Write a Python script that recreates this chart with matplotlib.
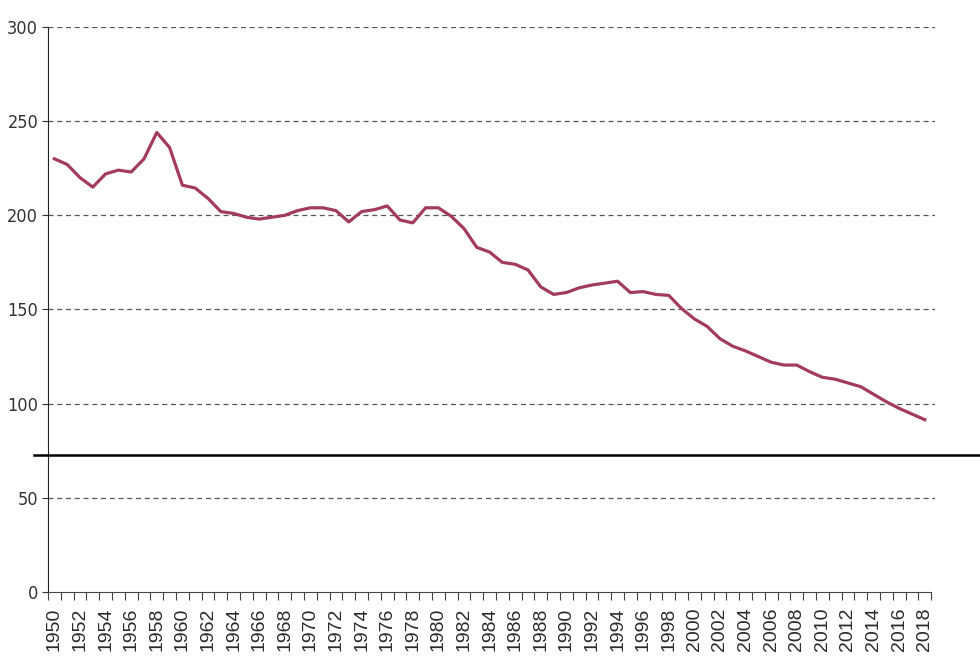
import numpy as np
import matplotlib
matplotlib.use("Agg")
import matplotlib.pyplot as plt
from matplotlib.ticker import MultipleLocator

years = np.arange(1950, 2019)
values = [230, 227, 220, 215, 222, 224, 223, 230, 244, 236,
          216, 214.5, 209, 202, 201, 199, 198, 199, 200, 202.5,
          204, 204, 202.5, 196.5, 202, 203, 205, 197.5, 196, 204,
          204, 199.5, 193, 183, 180.5, 175, 174, 171, 162, 158,
          159, 161.5, 163, 164, 165, 159, 159.5, 158, 157.5, 150.5,
          145, 141, 134.5, 130.5, 128, 125, 122, 120.5, 120.5, 117,
          114, 113, 111, 109, 105, 101, 97.5, 94.5, 91.5]
ref_line = 72.7
y_ticks = [0, 50, 100, 150, 200, 250, 300]

fig = plt.figure(figsize=(9.8, 6.57), dpi=100)
ax = fig.add_axes([48/980, 65/657, 887/980, 565/657])

# gridlines (not at 0)
for yv in y_ticks[1:]:
    ax.axhline(yv, color='#555555', lw=0.9, ls=(0, (4, 3)), zorder=1)

ax.plot(years, values, color='#a23b5e', lw=2.3, solid_joinstyle='round', zorder=3)

# black reference line running past the axes on both sides
x0, x1 = (34 - 48) / 887, (980 - 48) / 887
ax.axhline(ref_line, xmin=x0, xmax=x1, color='black', lw=1.8, clip_on=False, zorder=4)

ax.set_xlim(1949.5, 2018.8)
ax.set_ylim(0, 300)

for s in ['top', 'right']:
    ax.spines[s].set_visible(False)
ax.spines['left'].set_color('#222222')
ax.spines['bottom'].set_color('#444444')
ax.spines['bottom'].set_bounds(1949.5, 2018.5)

ax.set_yticks(y_ticks)
ax.set_yticklabels([str(v) for v in y_ticks],
                   family=['DejaVu Sans'], stretch='condensed', fontsize=13,
                   color='#333333')
ax.tick_params(axis='y', length=4, width=0.8, pad=3, color='#333333')

ax.set_xticks(years[::2])
ax.set_xticklabels([str(y) for y in years[::2]], rotation=90,
                   family=['Liberation Sans', 'DejaVu Sans'], fontsize=14,
                   color='#2a2a2a')
ax.xaxis.set_minor_locator(MultipleLocator(1, offset=0.5))
ax.tick_params(axis='x', which='major', length=0, pad=11)
ax.tick_params(axis='x', which='minor', length=6, width=0.8, color='#444444')

fig.savefig('out.png', dpi=100)
